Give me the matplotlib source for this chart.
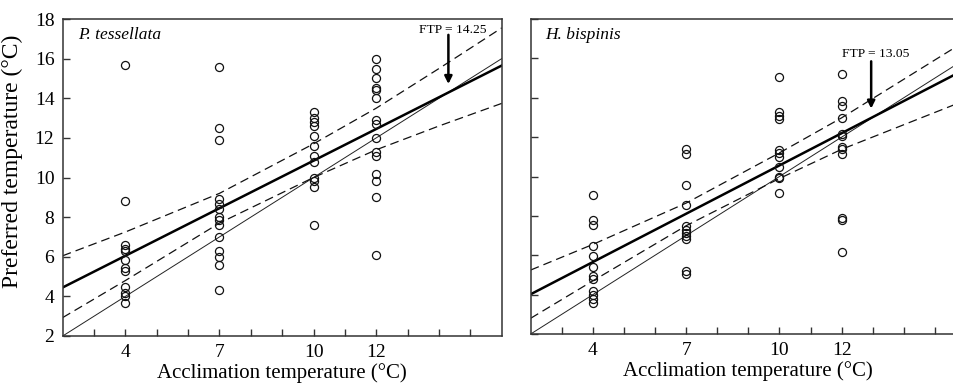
import numpy as np
import matplotlib
matplotlib.use('Agg')
import matplotlib.pyplot as plt

plt.rcParams['font.family'] = ['Liberation Serif', 'DejaVu Serif']

# acclimation temperatures and preferred temperatures
# P. tessellata
pt_x4 = [15.7, 8.8, 6.6, 6.4, 6.3, 5.85, 5.45, 5.3, 4.45, 4.15, 4.0, 3.65]
pt_x7 = [15.6, 12.5, 11.9, 8.9, 8.65, 8.4, 8.0, 7.85, 7.6, 7.0, 6.3, 6.0, 5.6, 4.3]
pt_x10 = [13.3, 13.0, 12.8, 12.6, 12.1, 11.6, 11.1, 10.8, 10.0, 9.8, 9.5, 7.6]
pt_x12 = [16.0, 15.5, 15.0, 14.5, 14.4, 14.0, 12.9, 12.7, 12.0, 11.3, 11.1, 10.2, 9.8, 9.0, 6.1]

# H. bispinis
hb_x4 = [9.05, 7.8, 7.55, 6.45, 5.95, 5.4, 4.95, 4.8, 4.2, 4.0, 3.8, 3.6]
hb_x7 = [11.4, 11.15, 9.55, 8.55, 7.5, 7.3, 7.15, 7.0, 6.85, 5.2, 5.05]
hb_x10 = [15.05, 13.3, 13.05, 12.9, 11.35, 11.2, 11.0, 10.5, 10.0, 9.9, 9.15]
hb_x12 = [15.2, 13.85, 13.6, 12.95, 12.15, 12.05, 11.5, 11.4, 11.15, 7.9, 7.8, 6.15]

# regression line end points (x = 2 and x = 16)
line_x = [2, 16]
pt_reg = [4.45, 15.65]
hb_reg = [4.02, 15.47]
equal_y = [2, 16]

# confidence bands
pt_band_x = [2, 4, 7, 10, 12, 14, 16]
pt_upper = [6.05, 7.25, 9.2, 11.7, 13.5, 15.5, 17.55]
pt_lower = [2.93, 4.8, 7.7, 10.0, 11.4, 12.6, 13.74]

hb_band_x = [2, 4, 7, 10, 12, 16]
hb_upper = [5.25, 6.55, 8.65, 11.2, 12.98, 16.9]
hb_lower = [2.8, 4.7, 7.5, 9.9, 11.38, 13.88]

# final thermal preferenda
pt_ftp = 14.25
hb_ftp = 13.05

W, H = 954, 383
fig = plt.figure(figsize=(W / 100, H / 100), dpi=100)
ax1 = fig.add_axes([62.7 / W, 1 - 336 / H, (501.7 - 62.7) / W, (336 - 19) / H])
ax2 = fig.add_axes([530.7 / W, 1 - 334 / H, (966 - 530.7) / W, (334 - 19) / H])


def draw_panel(ax, groups, reg, bx, up, lo, ftp, arrow_x, arrow_top, arrow_tip,
               text_x, text_y, name):
    for xv, ys in groups:
        ax.plot([xv] * len(ys), ys, 'o', ms=5.8, mfc='none', mec='#111111',
                mew=0.9, zorder=3)
    ax.plot(line_x, equal_y, color='#222222', lw=0.7)
    ax.plot(line_x, reg, color='black', lw=1.8)
    ax.plot(bx, up, color='#111111', lw=0.9, dashes=(7, 4))
    ax.plot(bx, lo, color='#111111', lw=0.9, dashes=(7, 4))

    ax.annotate('', xy=(arrow_x, arrow_tip), xytext=(arrow_x, arrow_top),
                arrowprops=dict(arrowstyle='-|>', color='black', lw=1.8,
                                mutation_scale=11, shrinkA=0, shrinkB=0))
    ax.text(text_x, text_y, 'FTP = %.2f' % ftp, fontsize=9.7,
            ha='center', va='center')
    ax.text(2.48, 17.2, name, fontsize=12.5, style='italic', ha='left', va='center')

    ax.set_xlim(2, 16)
    ax.set_ylim(2, 18)
    ax.set_xticks(range(3, 16))
    ax.set_xticklabels(['4' if t == 4 else '7' if t == 7 else '10' if t == 10
                        else '12' if t == 12 else '' for t in range(3, 16)])
    ax.set_yticks(range(2, 19, 2))
    ax.tick_params(direction='in', length=5, width=1, color='#333333',
                   labelsize=14, pad=6)
    for s in ax.spines.values():
        s.set_color('#333333')
        s.set_linewidth(1.1)
    ax.set_xlabel('Acclimation temperature (°C)', fontsize=15, labelpad=1)


draw_panel(ax1, [(4, pt_x4), (7, pt_x7), (10, pt_x10), (12, pt_x12)],
           pt_reg, pt_band_x, pt_upper, pt_lower, pt_ftp,
           14.3, 17.2, 14.72, 14.43, 17.45, 'P. tessellata')
draw_panel(ax2, [(4, hb_x4), (7, hb_x7), (10, hb_x10), (12, hb_x12)],
           hb_reg, hb_band_x, hb_upper, hb_lower, hb_ftp,
           12.95, 15.85, 13.45, 13.09, 16.2, 'H. bispinis')

ax1.set_ylabel('Preferred temperature (°C)', fontsize=17)
ax1.yaxis.set_label_coords(-0.09, 0.55)
ax2.set_yticklabels([])

fig.savefig('out.png', dpi=100)
